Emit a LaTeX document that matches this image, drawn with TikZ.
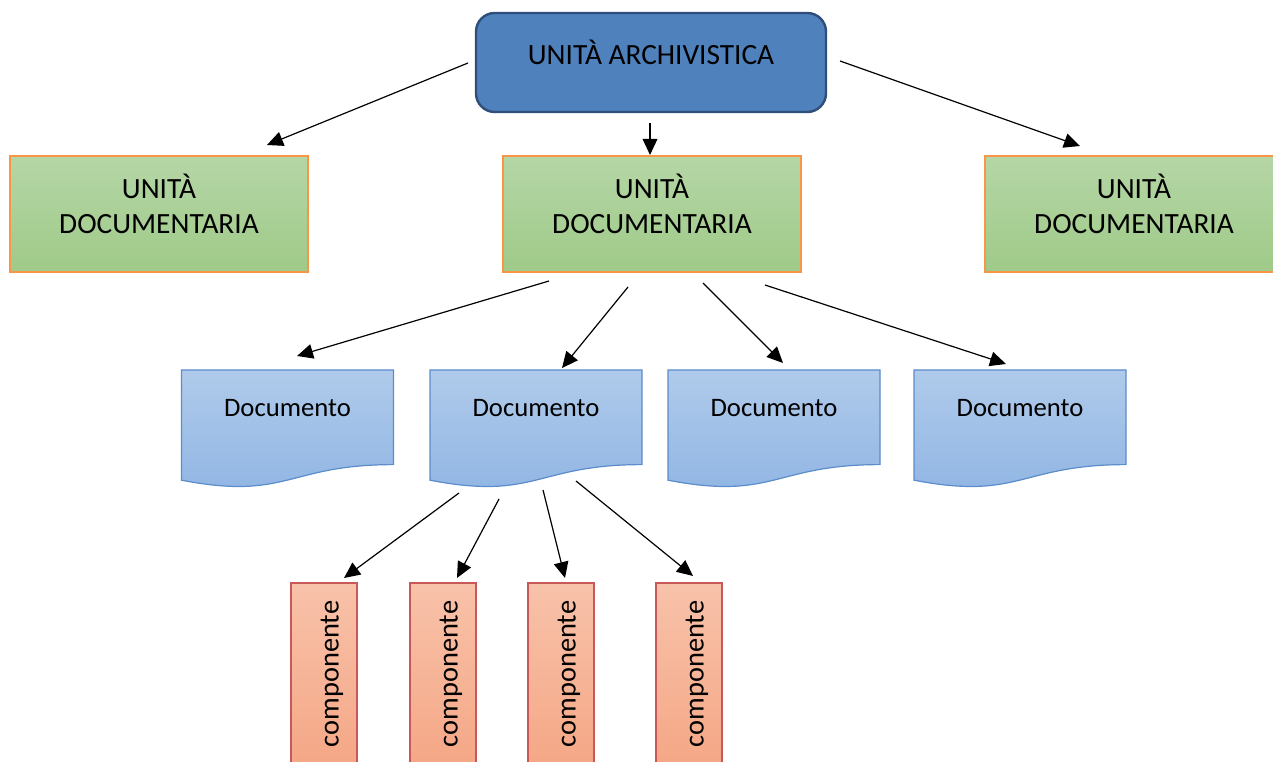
\documentclass[tikz,border=0pt]{standalone}
\usepackage{fontspec}
\setmainfont{Carlito}
\usetikzlibrary{arrows.meta}

\definecolor{archfill}{HTML}{4F81BD}
\definecolor{archline}{HTML}{2F4F7A}
\definecolor{greentop}{HTML}{B5D6A6}
\definecolor{greenbot}{HTML}{9FCA88}
\definecolor{orangeline}{HTML}{F79646}
\definecolor{doctop}{HTML}{B0CBEB}
\definecolor{docbot}{HTML}{8FB4E3}
\definecolor{docline}{HTML}{5B8CCB}
\definecolor{comptop}{HTML}{F8C2AA}
\definecolor{compbot}{HTML}{F4A27F}
\definecolor{compline}{HTML}{C9585A}

% flowchart "document" shape, left edge at #1, top at 370
\newcommand\DocShape[1]{%
  \path[docfill] (#1,370) -- (#1+212,370) -- (#1+212,464.6)
    .. controls (#1+106,464.6) and (#1+106,500.7) .. (#1,480.2) -- cycle;}

\begin{document}
\begin{tikzpicture}[x=0.75pt,y=-0.75pt,
  conn/.style={draw=black, line width=0.9pt, -{Triangle[length=12pt,width=11pt]}},
  txt/.style={font=\fontsize{22}{26.25}\selectfont, align=center, text=black, inner sep=0pt},
  comptxt/.style={font=\fontsize{21.3}{24}\selectfont, text=black, inner sep=0pt},
  doctxt/.style={font=\fontsize{20}{24}\selectfont, text=black, inner sep=0pt},
  archbox/.style={draw=archline, fill=archfill, line width=1.8pt, rounded corners=14pt,
    minimum width=262.5pt, minimum height=74.25pt, inner sep=0pt},
  unitbox/.style={draw=orangeline, top color=greentop, bottom color=greenbot, line width=0.9pt,
    minimum width=223.5pt, minimum height=87pt, inner sep=0pt},
  docfill/.style={draw=docline, top color=doctop, bottom color=docbot, line width=0.9pt},
  compbox/.style={draw=compline, top color=comptop, bottom color=compbot, line width=0.9pt,
    minimum width=49.5pt, minimum height=162.75pt, inner sep=0pt},
]
\useasboundingbox (0,0) rectangle (1273,762);
\clip (0,0) rectangle (1273,762);

% top level
\node[archbox] (arch) at (651,62.5) {};
\node[txt] (archtxt) at (651,52) {UNITÀ ARCHIVISTICA};

% documentary units
\node[unitbox] (ud1) at (159,214) {};
\node[unitbox] (ud2) at (652,214) {};
\node[unitbox] (ud3) at (1134,214) {};
\node[txt] (ud1txt) at (159,204) {UNITÀ\\DOCUMENTARIA};
\node[txt] (ud2txt) at (652,204) {UNITÀ\\DOCUMENTARIA};
\node[txt] (ud3txt) at (1134,204) {UNITÀ\\DOCUMENTARIA};

% documents
\DocShape{181.5}
\DocShape{430}
\DocShape{668}
\DocShape{914}
\node[doctxt] (doc1) at (287.5,408) {Documento};
\node[doctxt] (doc2) at (536,408) {Documento};
\node[doctxt] (doc3) at (774,408) {Documento};
\node[doctxt] (doc4) at (1020,408) {Documento};

% components
\node[compbox] (comp1) at (324,691.5) {};
\node[compbox] (comp2) at (443,691.5) {};
\node[compbox] (comp3) at (561,691.5) {};
\node[compbox] (comp4) at (689,691.5) {};
\node[comptxt, rotate=90] (comp1txt) at (332,674) {componente};
\node[comptxt, rotate=90] (comp2txt) at (451,674) {componente};
\node[comptxt, rotate=90] (comp3txt) at (569,674) {componente};
\node[comptxt, rotate=90] (comp4txt) at (697,674) {componente};

% connector ends
\coordinate (a1s) at (468,63);   \coordinate (a1e) at (267,145);
\coordinate (a2s) at (650,123);  \coordinate (a2e) at (650,155);
\coordinate (a3s) at (840,61);   \coordinate (a3e) at (1080,146);
\coordinate (b1s) at (549,281);  \coordinate (b1e) at (297,356);
\coordinate (b2s) at (628,287);  \coordinate (b2e) at (562,368);
\coordinate (b3s) at (703,283);  \coordinate (b3e) at (783,363);
\coordinate (b4s) at (765,285);  \coordinate (b4e) at (1006,364);
\coordinate (c1s) at (459,493);  \coordinate (c1e) at (344,578);
\coordinate (c2s) at (499,499);  \coordinate (c2e) at (457,578);
\coordinate (c3s) at (543,490);  \coordinate (c3e) at (565,578);
\coordinate (c4s) at (576,481);  \coordinate (c4e) at (693,576);

\foreach \p in {a1,a2,a3,b1,b2,b3,b4,c1,c2,c3,c4}
  \draw[conn] (\p s) -- (\p e);
\end{tikzpicture}
\end{document}
